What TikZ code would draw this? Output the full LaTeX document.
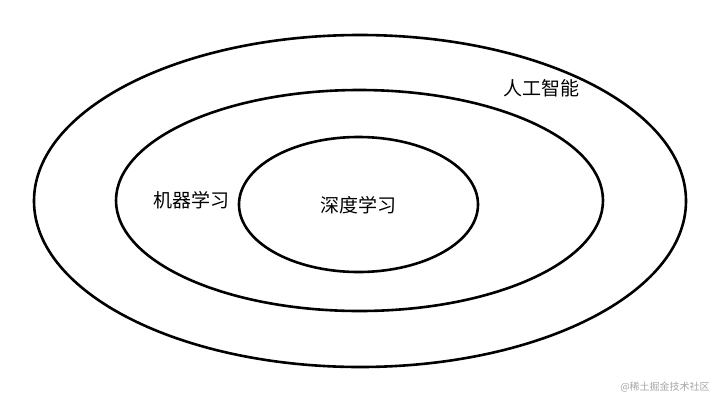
\documentclass[tikz,border=0pt]{standalone}
\usepackage{fontspec}
\newfontfamily\cjk{Noto Sans CJK SC}
\begin{document}
\begin{tikzpicture}[x=1pt,y=-1pt,
  ring/.style={draw=black,line width=2.6pt},
  lbl/.style={font=\cjk\fontsize{19}{21}\selectfont,inner sep=0pt},
  wm/.style={font=\cjk\fontsize{10}{12}\selectfont,text=black!35,inner sep=0pt}]
\useasboundingbox (0,0) rectangle (717,400);
\draw[ring] (360,201) ellipse [x radius=326, y radius=166];
\draw[ring] (359.5,200.5) ellipse [x radius=243.5, y radius=110.5];
\draw[ring] (358.5,204.5) ellipse [x radius=119.5, y radius=67.5];
\node[lbl] (ai) at (541,88.5) {人工智能};
\node[lbl] (ml) at (191,200) {机器学习};
\node[lbl] (dl) at (358.5,205) {深度学习};
\node[wm] (w) at (665,387) {@稀土掘金技术社区};
\end{tikzpicture}
\end{document}
